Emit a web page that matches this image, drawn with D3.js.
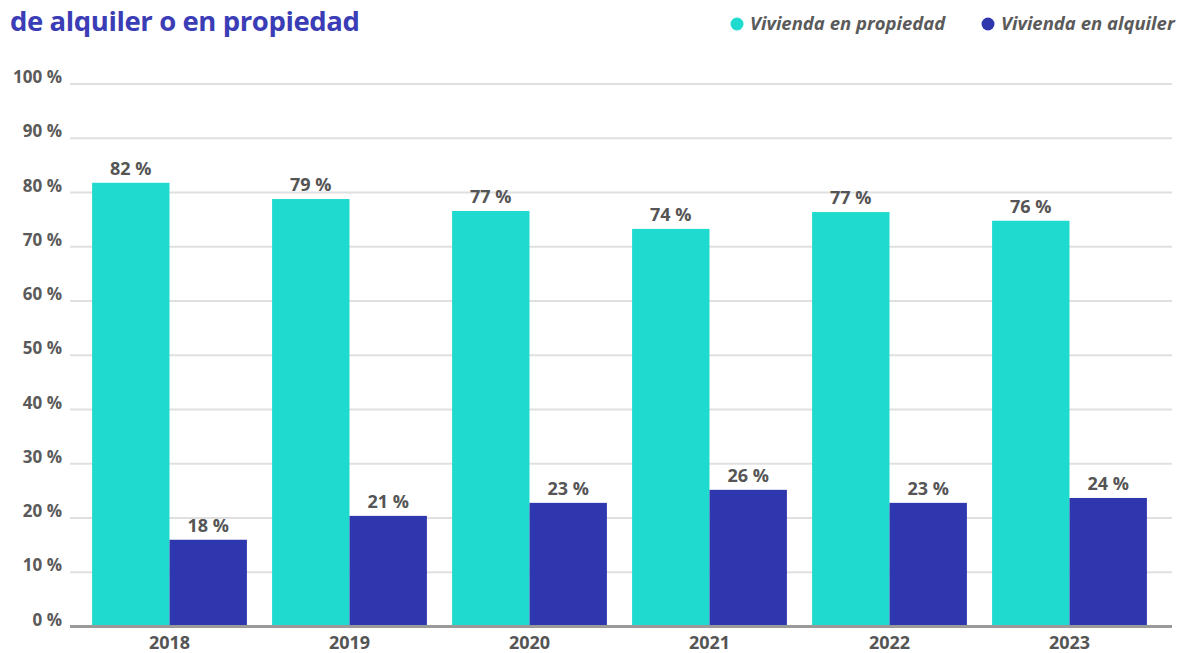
<!DOCTYPE html>
<html>
<head>
<meta charset="utf-8">
<script src="https://cdn.jsdelivr.net/npm/d3@7"></script>
<style>
  body { margin: 0; background: #fff; }
  text { font-family: "Open Sans", sans-serif; }
</style>
</head>
<body>
<div id="chart"></div>
<script>
// Data
const years = ["2018", "2019", "2020", "2021", "2022", "2023"];
const ownedValues = [81.7, 78.7, 76.5, 73.2, 76.3, 74.7];
const rentedValues = [15.9, 20.3, 22.7, 25.1, 22.7, 23.6];
const ownedLabels = ["82 %", "79 %", "77 %", "74 %", "77 %", "76 %"];
const rentedLabels = ["18 %", "21 %", "23 %", "26 %", "23 %", "24 %"];
const seriesNames = ["Vivienda en propiedad", "Vivienda en alquiler"];
const yTicks = [0, 10, 20, 30, 40, 50, 60, 70, 80, 90, 100];

const width = 1180, height = 653;
const colors = ["#1fdbcf", "#2f37ae"];

const svg = d3.select("#chart").append("svg")
    .attr("width", width)
    .attr("height", height);

// Title (second line visible only)
svg.append("text")
    .attr("x", 10)
    .attr("y", 31)
    .attr("fill", "#3a3db5")
    .style("font-size", "27.5px")
    .style("font-weight", 700)
    .style("letter-spacing", "-0.4px")
    .text("de alquiler o en propiedad");

const y = d3.scaleLinear().domain([0, 100]).range([626, 83.5]);
const x = d3.scaleBand().domain(years).range([79.5, 1159.5])
    .paddingInner(0.14).paddingOuter(0.07);
const xs = d3.scaleBand().domain([0, 1]).range([0, x.bandwidth()]);

// Gridlines
const yAxis = d3.axisLeft(y)
    .tickValues(yTicks)
    .tickSize(-(1172 - 70))
    .tickFormat(d => d + " %");

const gy = svg.append("g")
    .attr("transform", "translate(70,0)")
    .call(yAxis);
gy.select(".domain").remove();
gy.selectAll(".tick line")
    .attr("stroke", d => d === 0 ? "#9a9a9a" : "#e0e0e0")
    .attr("stroke-width", d => d === 0 ? 3 : 2);
gy.selectAll(".tick text")
    .attr("fill", "#5a5a5a")
    .attr("x", -8)
    .attr("dy", "-0.05em")
    .style("font-size", "17px")
    .style("font-weight", 700);

// Bars
const groups = svg.append("g").selectAll("g")
    .data(years)
    .join("g")
    .attr("transform", d => `translate(${x(d)},0)`);

const rows = years.map((yr, i) => [
    { s: 0, v: ownedValues[i], label: ownedLabels[i] },
    { s: 1, v: rentedValues[i], label: rentedLabels[i] }
]);

groups.selectAll("rect")
    .data((d, i) => rows[i])
    .join("rect")
    .attr("x", d => xs(d.s))
    .attr("y", d => y(d.v))
    .attr("width", xs.bandwidth())
    .attr("height", d => y(0) - y(d.v))
    .attr("fill", d => colors[d.s]);

groups.selectAll("text.val")
    .data((d, i) => rows[i])
    .join("text")
    .attr("class", "val")
    .attr("x", d => xs(d.s) + xs.bandwidth() / 2)
    .attr("y", d => y(d.v) - 8)
    .attr("text-anchor", "middle")
    .attr("fill", "#555")
    .style("font-size", "18px")
    .style("font-weight", 700)
    .text(d => d.label);

// redraw the 0 line on top of bars
svg.append("line")
    .attr("x1", 70).attr("x2", 1172)
    .attr("y1", y(0) + 0.5).attr("y2", y(0) + 0.5)
    .attr("stroke", "#9a9a9a")
    .attr("stroke-width", 3);

// X axis labels
const gx = svg.append("g")
    .attr("transform", `translate(0,${y(0)})`)
    .call(d3.axisBottom(x).tickSize(0).tickPadding(10));
gx.select(".domain").remove();
gx.selectAll(".tick text")
    .attr("fill", "#555")
    .style("font-size", "18px")
    .style("font-weight", 700);

// Legend
const legendX = [737, 988];
const legend = svg.append("g").selectAll("g")
    .data(seriesNames)
    .join("g")
    .attr("transform", (d, i) => `translate(${legendX[i]},24)`);
legend.append("circle")
    .attr("r", 6.5)
    .attr("fill", (d, i) => colors[i]);
legend.append("text")
    .attr("x", 13)
    .attr("dy", "0.35em")
    .attr("fill", "#5a5a5a")
    .style("font-size", "18.5px")
    .style("font-style", "italic")
    .style("font-weight", 700)
    .text(d => d);
</script>
</body>
</html>
